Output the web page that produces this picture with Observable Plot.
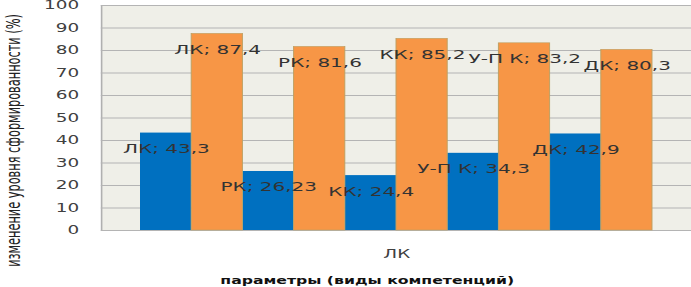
<!DOCTYPE html>
<html><head><meta charset="utf-8">
<script src="https://cdn.jsdelivr.net/npm/d3@7"></script>
<script src="https://cdn.jsdelivr.net/npm/@observablehq/plot@0.6"></script>
<style>
html,body{margin:0;padding:0;background:#fff;overflow:hidden}
#chart{width:691px;height:287px;overflow:hidden}
#chart svg{transform:scaleX(1.6);transform-origin:0 0;display:block}
</style></head><body><div id="chart"></div>
<script>
const groupLabel = "ЛК";
const categories = ["ЛК", "РК", "КК", "У-П К", "ДК"];
const seriesNames = ["до", "после"];
const valuesBefore = [43.3, 26.23, 24.4, 34.3, 42.9];
const valuesAfter = [87.4, 81.6, 85.2, 83.2, 80.3];
const yTicks = [0, 10, 20, 30, 40, 50, 60, 70, 80, 90, 100];
const yTitle = "изменение уровня сформированности (%)";
const xTitle = "параметры (виды компетенций)";

const rows = categories.flatMap((c, i) => [
  {group: groupLabel, key: c + "|" + seriesNames[0], category: c, series: seriesNames[0], value: valuesBefore[i]},
  {group: groupLabel, key: c + "|" + seriesNames[1], category: c, series: seriesNames[1], value: valuesAfter[i]}
]);
const fmt = v => String(v).replace(".", ",");

const plot = Plot.plot({
  width: 432,
  height: 287,
  marginLeft: 62.5,
  marginRight: 0,
  marginTop: 5,
  marginBottom: 57,
  style: {fontFamily: "DejaVu Sans, sans-serif", fontSize: "11.5px", color: "#404040", background: "#fff", overflow: "visible"},
  facet: {data: rows, x: "group"},
  fx: {axis: "bottom", padding: 0, tickSize: 0, tickPadding: 19, label: null},
  x: {domain: rows.map(d => d.key), axis: null, paddingInner: 0, paddingOuter: 0.76},
  y: {domain: [0, 100], ticks: yTicks, tickSize: 0, tickPadding: 14, label: null},
  color: {domain: seriesNames, range: ["#0070C0", "#F79646"]},
  marks: [
    Plot.frame({fill: "#efefe8", stroke: "#b0b0b0"}),
    Plot.ruleY(yTicks, {stroke: "#b4b4b4"}),
    Plot.barY(rows, {filter: d => d.series === seriesNames[0], x: "key", y: "value", fill: "series"}),
    Plot.barY(rows, {filter: d => d.series === seriesNames[1], x: "key", y: "value", fill: "series", stroke: "#bda062", strokeWidth: 0.6}),
    Plot.text(rows, {x: "key", y: "value", text: d => d.category + "; " + fmt(d.value), dy: 16, fill: "#333", fontSize: 12.5}),
    Plot.text([yTitle], {frameAnchor: "left", textAnchor: "middle", rotate: -90, dx: -55, dy: 22.5, fill: "#222", fontSize: 12.6, fontFamily: "'Liberation Sans Narrow', 'DejaVu Sans Condensed', 'Roboto Condensed', sans-serif", fontStretch: "condensed"}),
    Plot.text([xTitle], {frameAnchor: "bottom", dy: 53, dx: -18.5, fontWeight: "bold", fontSize: 9.8, fill: "#111"})
  ]
});
document.getElementById("chart").appendChild(plot);
</script>
</body></html>
